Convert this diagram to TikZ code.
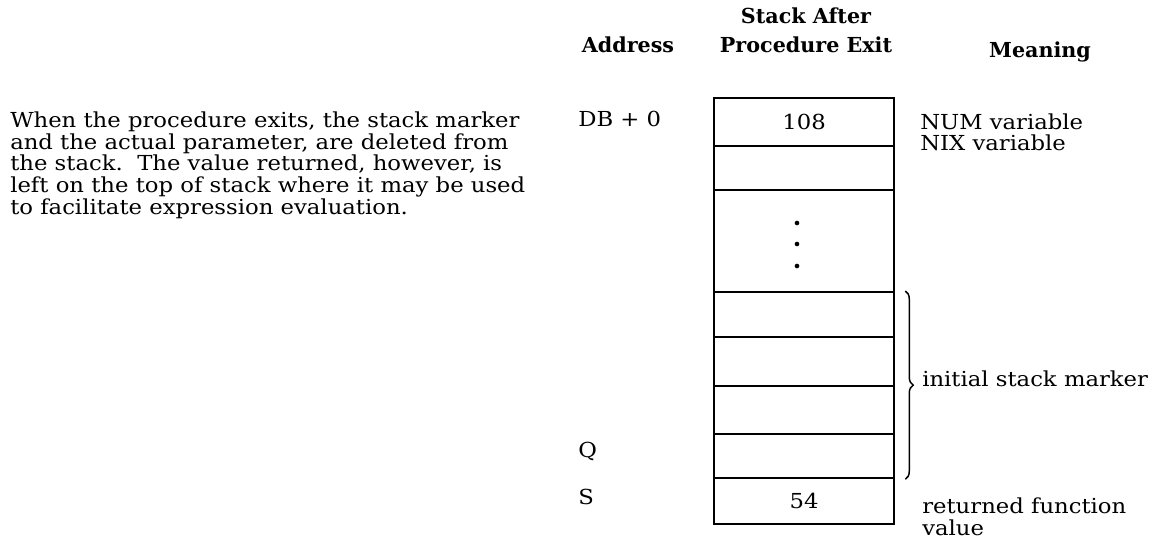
\documentclass[tikz,border=0pt]{standalone}
\usepackage{fontspec}
\setmainfont{DejaVu Serif}
\newfontfamily\bodyfont{DejaVu Serif}[FakeStretch=1.1]
\usetikzlibrary{decorations.pathreplacing}
\begin{document}
\begin{tikzpicture}[x=0.75pt,y=-0.75pt,
  txt/.style={inner sep=0pt,anchor=base west,font=\bodyfont\fontsize{15.5}{16.3}\selectfont},
  hdr/.style={inner sep=0pt,anchor=base,font=\fontsize{15.5}{16.3}\selectfont\bfseries},
  cell/.style={draw,line width=1.7pt,minimum width=135pt,inner sep=0pt,anchor=north west,
    font=\bodyfont\fontsize{15.5}{16.3}\selectfont},
  dot/.style={circle,fill,inner sep=0pt,minimum size=3.5pt},
  bracestyle/.style={decorate,decoration={brace,amplitude=6pt},line width=1.1pt},
]
\useasboundingbox (0,0) rectangle (1166,540);

% explanatory paragraph
\node[txt] (p1) at (10,127) {When the procedure exits, the stack marker};
\node[txt] (p2) at (10,149) {and the actual parameter, are deleted from};
\node[txt] (p3) at (10,170) {the stack.\ \ The value returned, however, is};
\node[txt] (p4) at (10,192) {left on the top of stack where it may be used};
\node[txt] (p5) at (10,214) {to facilitate expression evaluation.};

% headers
\node[hdr] (haddr) at (628,52) {Address};
\node[hdr] (hstack1) at (806,23) {Stack After};
\node[hdr] (hstack2) at (806,52) {Procedure Exit};
\node[hdr] (hmean) at (1040,57) {Meaning};

% stack cells
\node[cell,minimum height=36pt] (r1) at (713,97) {108};
\node[cell,minimum height=33pt] (r2) at (713,145) {};
\node[cell,minimum height=76.5pt] (r3) at (713,189) {};
\node[cell,minimum height=33.75pt] (r4) at (713,291) {};
\node[cell,minimum height=36.75pt] (r5) at (713,336) {};
\node[cell,minimum height=36pt] (r6) at (713,385) {};
\node[cell,minimum height=33pt] (r7) at (713,433) {};
\node[cell,minimum height=34.5pt] (r8) at (713,477) {54};

% vertical dots
\node[dot] (d1) at (797,223) {};
\node[dot] (d2) at (797,244) {};
\node[dot] (d3) at (797,266) {};

% addresses
\node[txt] (adb) at (578,126) {DB + 0};
\node[txt] (aq) at (578,457) {Q};
\node[txt] (as) at (578,504) {S};

% meanings
\node[txt] (mnum) at (920,129) {NUM variable};
\node[txt] (mnix) at (920,150) {NIX variable};
\node[txt] (minit) at (922,386) {initial stack marker};
\node[txt] (mret1) at (922,513) {returned function};
\node[txt] (mret2) at (922,535) {value};

% brace
\coordinate (bt) at ([xshift=7.5pt]r4.north east);
\coordinate (bb) at ([xshift=7.5pt]r7.south east);
\draw[bracestyle] (bt) -- (bb);
\end{tikzpicture}
\end{document}
